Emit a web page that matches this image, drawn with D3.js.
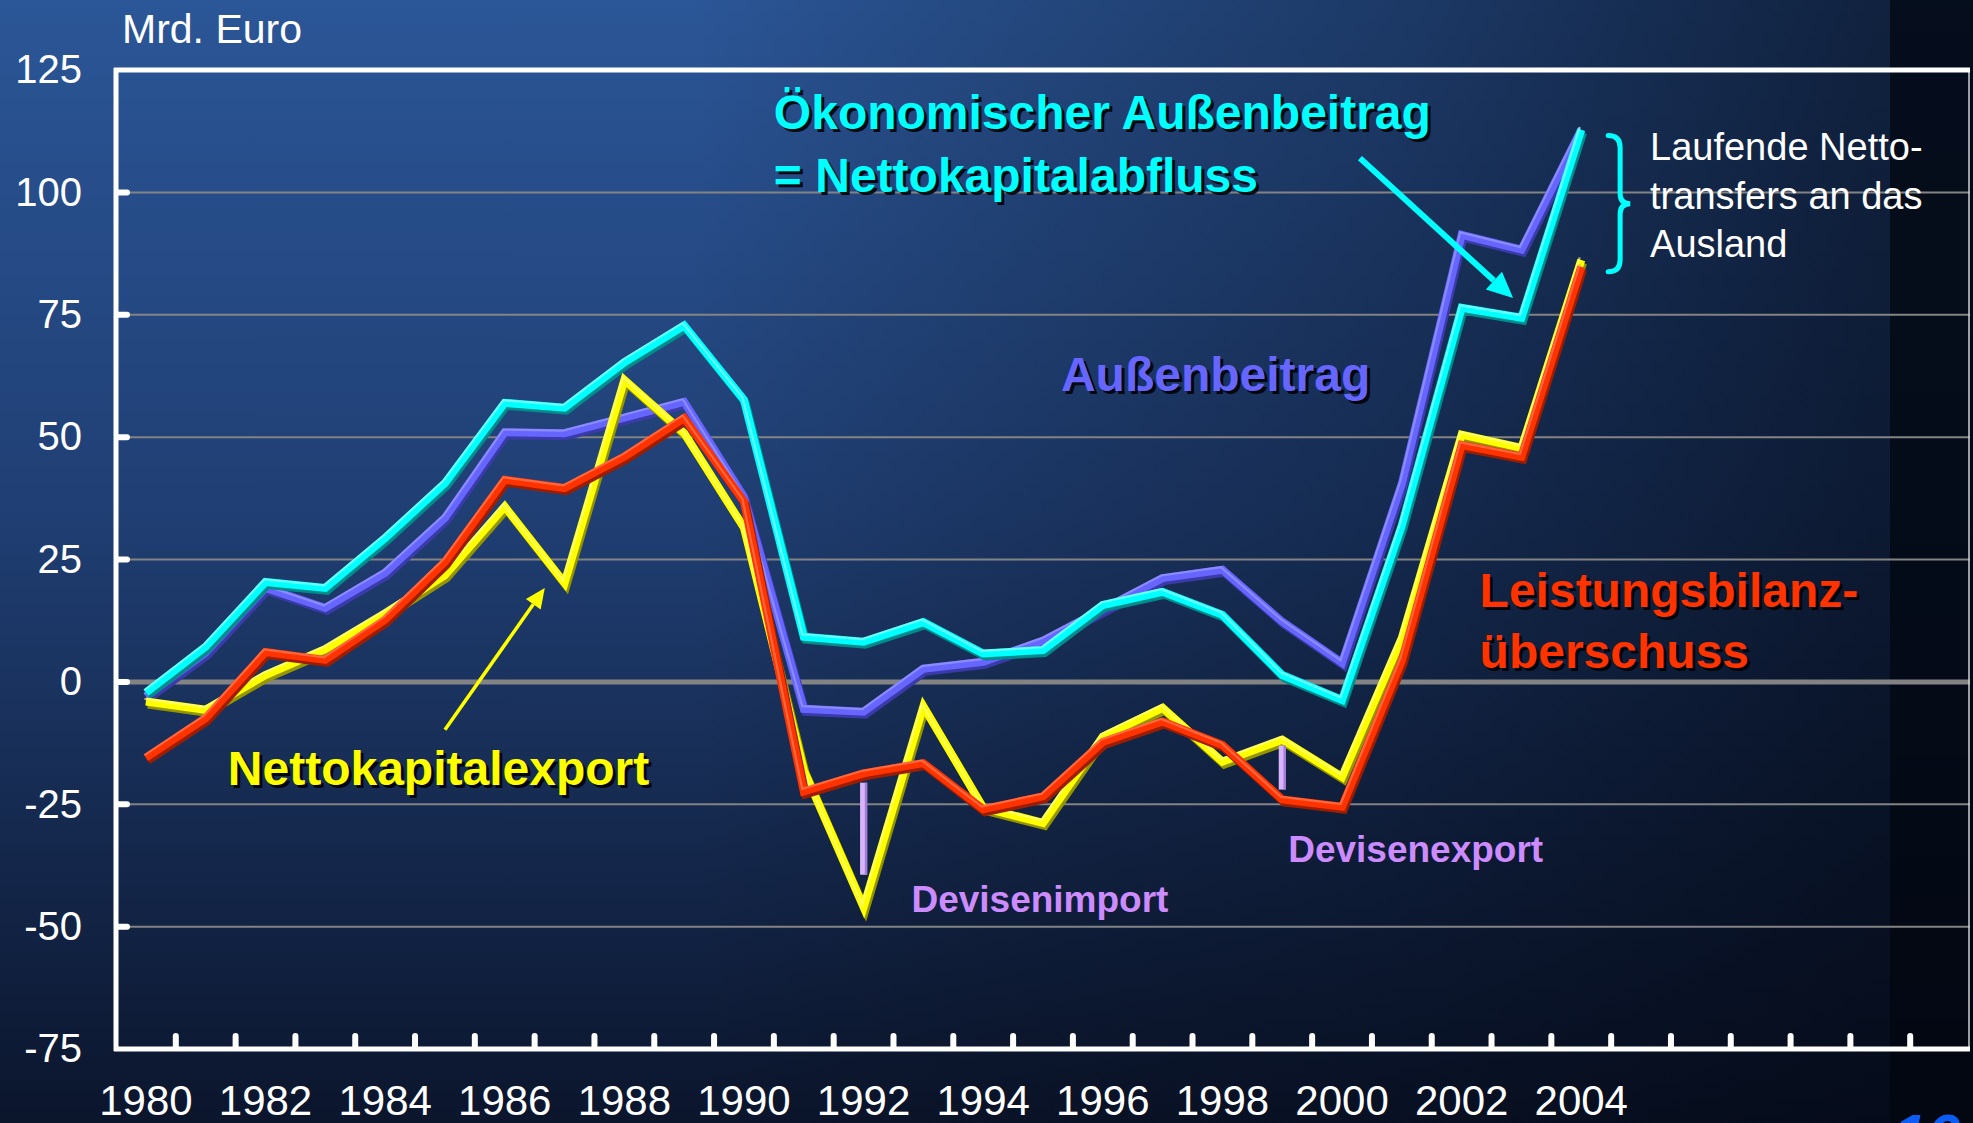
<!DOCTYPE html>
<html>
<head>
<meta charset="utf-8">
<script src="https://cdnjs.cloudflare.com/ajax/libs/d3/7.8.5/d3.min.js"></script>
<style>
  body { margin: 0; background: #0b1429; }
  svg { display: block; font-family: "Liberation Sans", Arial, sans-serif; }
</style>
</head>
<body>
<div id="chart"></div>
<script>
// ---- data (Mrd. Euro) ----
const years = [1980, 1981, 1982, 1983, 1984, 1985, 1986, 1987, 1988, 1989, 1990, 1991, 1992,
               1993, 1994, 1995, 1996, 1997, 1998, 1999, 2000, 2001, 2002, 2003, 2004]
// category slots on the x axis (the chart leaves room up to 2010)
const slots = [1980, 1981, 1982, 1983, 1984, 1985, 1986, 1987, 1988, 1989, 1990, 1991, 1992,
               1993, 1994, 1995, 1996, 1997, 1998, 1999, 2000, 2001, 2002, 2003, 2004, 2005,
               2006, 2007, 2008, 2009, 2010]
const yearLabels = [1980, 1982, 1984, 1986, 1988, 1990, 1992, 1994, 1996, 1998, 2000, 2002, 2004]
const yTicks = [125, 100, 75, 50, 25, 0, -25, -50, -75]

const aussenbeitrag = [-3, 6, 19.2, 15.1, 22.3, 33.5, 51, 50.8, 54, 57.2, 37.8, -5.5, -6.1,
                       2.7, 4.1, 8.4, 14.8, 21.2, 22.9, 12.3, 3.9, 40.5, 91.3, 88.3, 112.8]
const oekAussenbeitrag = [-2.2, 7.2, 20.4, 19.2, 29.4, 40.6, 57, 56, 65.3, 72.8, 57.6, 9.2, 8.2,
                          12.2, 5.8, 6.5, 15.7, 18.4, 13.7, 1.4, -3.7, 32, 76.4, 74.4, 112.8]
const nettokapitalexport = [-4, -5.7, 1.4, 6.7, 14, 21.8, 35.8, 20.2, 61.7, 50.8, 31.5, -18, -46,
                            -5, -25.7, -28.8, -11.2, -5.3, -16.3, -11.8, -19.4, 9, 50.5, 47.8, 86.2]
const leistungsbilanz = [-15.5, -7.4, 6.1, 4.5, 12.7, 24.5, 41.3, 39.6, 46, 53.9, 36.8, -22.4, -18.7,
                         -16.6, -26, -23.4, -12.3, -8.1, -12.9, -24, -25.5, 4.3, 48.4, 46, 84.8]

// Devisenimport / Devisenexport gaps
const deviseYears = [1992, 1999]
const deviseFrom = [-20.6, -13]
const deviseTo = [-39.4, -22]

const width = 1973
const height = 1123

const svg = d3.select("#chart").append("svg")
  .attr("width", width)
  .attr("height", height)

const defs = svg.append("defs")

const bgV = defs.append("linearGradient").attr("id", "bgV")
  .attr("x1", 0).attr("y1", 0).attr("x2", 0).attr("y2", 1)
bgV.append("stop").attr("offset", 0).attr("stop-color", "#2b5697")
bgV.append("stop").attr("offset", 0.45).attr("stop-color", "#203f74")
bgV.append("stop").attr("offset", 1).attr("stop-color", "#0b152c")

const bgH = defs.append("linearGradient").attr("id", "bgH")
  .attr("x1", 0).attr("y1", 0).attr("x2", 1).attr("y2", 0)
bgH.append("stop").attr("offset", 0).attr("stop-color", "#000").attr("stop-opacity", 0)
bgH.append("stop").attr("offset", 0.35).attr("stop-color", "#000").attr("stop-opacity", 0)
bgH.append("stop").attr("offset", 0.7).attr("stop-color", "#020610").attr("stop-opacity", 0.35)
bgH.append("stop").attr("offset", 0.95).attr("stop-color", "#020610").attr("stop-opacity", 0.65)

svg.append("rect").attr("width", width).attr("height", height).attr("fill", "url(#bgV)")
svg.append("rect").attr("width", width).attr("height", height).attr("fill", "url(#bgH)")
svg.append("rect").attr("x", 1890).attr("width", width - 1890).attr("height", height)
  .attr("fill", "#01060e").attr("opacity", 0.7)

// scales
const x = d3.scaleBand().domain(slots).range([116, 1970])
const y = d3.scaleLinear().domain([-75, 125]).range([1049, 70])
const xc = d => x(d) + x.bandwidth() / 2
// fractional year position for annotations
const xa = yr => x(1980) + (yr - 1980 + 0.5) * x.bandwidth()

// grid lines
svg.append("g").selectAll("line")
  .data(yTicks.filter(v => v !== 125 && v !== -75))
  .join("line")
  .attr("x1", 116).attr("x2", 1970)
  .attr("y1", d => y(d)).attr("y2", d => y(d))
  .attr("stroke", "#838383")
  .attr("stroke-width", d => d === 0 ? 5 : 2)

// frame
svg.append("line").attr("x1", 1969).attr("x2", 1969).attr("y1", y(125)).attr("y2", y(-75))
  .attr("stroke", "#d0d0d0").attr("stroke-width", 1.5)
svg.append("line").attr("x1", 114).attr("x2", 1970).attr("y1", y(125)).attr("y2", y(125))
  .attr("stroke", "white").attr("stroke-width", 5)
svg.append("line").attr("x1", 114).attr("x2", 1970).attr("y1", y(-75)).attr("y2", y(-75))
  .attr("stroke", "white").attr("stroke-width", 5)
svg.append("line").attr("x1", 116).attr("x2", 116).attr("y1", y(125) - 2).attr("y2", y(-75) + 2)
  .attr("stroke", "white").attr("stroke-width", 5)

// tick stubs
svg.append("g").selectAll("line")
  .data(yTicks.filter(v => v !== 125 && v !== -75))
  .join("line")
  .attr("x1", 118).attr("x2", 127)
  .attr("y1", d => y(d)).attr("y2", d => y(d))
  .attr("stroke", "white").attr("stroke-width", 6).attr("stroke-linecap", "round")
svg.append("g").selectAll("line")
  .data(slots.slice(1))
  .join("line")
  .attr("x1", d => x(d)).attr("x2", d => x(d))
  .attr("y1", y(-75) - 2).attr("y2", y(-75) - 13)
  .attr("stroke", "white").attr("stroke-width", 6).attr("stroke-linecap", "round")

// axes labels (plain hyphen for negatives, like the original)
const yAxis = d3.axisLeft(y).tickValues(yTicks).tickSize(0).tickPadding(34)
  .tickFormat(d => String(d))
svg.append("g")
  .attr("transform", "translate(116, 0)")
  .call(yAxis)
  .call(g => g.select(".domain").remove())
  .selectAll("text")
  .attr("fill", "white")
  .attr("font-size", 40)
  .attr("font-family", "Liberation Sans, Arial, sans-serif")

const xAxis = d3.axisBottom(x).tickValues(yearLabels).tickSize(0).tickPadding(36)
svg.append("g")
  .attr("transform", "translate(0, " + y(-75) + ")")
  .call(xAxis)
  .call(g => g.select(".domain").remove())
  .selectAll("text")
  .attr("fill", "white")
  .attr("font-size", 42)
  .attr("font-family", "Liberation Sans, Arial, sans-serif")

svg.append("text")
  .attr("x", 122).attr("y", y(125) - 27)
  .attr("fill", "white").attr("font-size", 41)
  .text("Mrd. Euro")

// lines with a bevelled look
const series = [
  { values: aussenbeitrag, color: "#6666ff", light: "#a4a4ff", dark: "#3a3aa8" },
  { values: oekAussenbeitrag, color: "#00ffff", light: "#b0ffff", dark: "#008c8c" },
  { values: nettokapitalexport, color: "#ffff00", light: "#ffffa8", dark: "#959500" },
  { values: leistungsbilanz, color: "#ff3300", light: "#ff8c68", dark: "#9c1d00" }
]

const line = d3.line()
  .x((d, i) => xc(years[i]))
  .y(d => y(d))

const lines = svg.append("g")
series.forEach(s => {
  lines.append("path").datum(s.values)
    .attr("d", line).attr("fill", "none")
    .attr("stroke", s.dark).attr("stroke-width", 8)
    .attr("stroke-linejoin", "miter")
    .attr("transform", "translate(1.8, 3)")
  lines.append("path").datum(s.values)
    .attr("d", line).attr("fill", "none")
    .attr("stroke", s.color).attr("stroke-width", 8)
    .attr("stroke-linejoin", "miter")
  lines.append("path").datum(s.values)
    .attr("d", line).attr("fill", "none")
    .attr("stroke", s.light).attr("stroke-width", 2.2)
    .attr("stroke-opacity", 0.6)
    .attr("stroke-linejoin", "miter")
    .attr("transform", "translate(-1.5, -2.6)")
})

// Devisen gap markers
const marks = svg.append("g")
deviseYears.forEach((yr, i) => {
  marks.append("line")
    .attr("x1", xc(yr)).attr("x2", xc(yr))
    .attr("y1", y(deviseFrom[i])).attr("y2", y(deviseTo[i]))
    .attr("stroke", "#d8b4fa").attr("stroke-width", 7)
  marks.append("line")
    .attr("x1", xc(yr) + 2.5).attr("x2", xc(yr) + 2.5)
    .attr("y1", y(deviseFrom[i])).attr("y2", y(deviseTo[i]))
    .attr("stroke", "#a47ed6").attr("stroke-width", 2.5)
})

// annotation helpers
function label(txt, px, py, size, fill, shadow, weight) {
  const g = svg.append("g")
  if (shadow) {
    g.append("text").attr("x", px + 3).attr("y", py + 3)
      .attr("font-size", size).attr("font-weight", weight || "bold")
      .attr("fill", "#000").attr("opacity", 0.85).text(txt)
  }
  g.append("text").attr("x", px).attr("y", py)
    .attr("font-size", size).attr("font-weight", weight || "bold")
    .attr("fill", fill).text(txt)
}

function arrow(x1, y1, x2, y2, color, w, headLen, headW) {
  const a = Math.atan2(y2 - y1, x2 - x1)
  const bx = x2 - headLen * Math.cos(a)
  const by = y2 - headLen * Math.sin(a)
  svg.append("line").attr("x1", x1).attr("y1", y1).attr("x2", bx).attr("y2", by)
    .attr("stroke", color).attr("stroke-width", w)
  const pts = [
    [x2, y2],
    [bx + headW * Math.sin(a), by - headW * Math.cos(a)],
    [bx - headW * Math.sin(a), by + headW * Math.cos(a)]
  ]
  svg.append("polygon").attr("points", pts.map(p => p.join(",")).join(" ")).attr("fill", color)
}

label("Ökonomischer Außenbeitrag", xa(1990.5), y(113), 48, "#00ffff", true)
label("= Nettokapitalabfluss", xa(1990.5), y(100.1), 48, "#00ffff", true)
label("Außenbeitrag", xa(1995.3), y(59.4), 48, "#6666ff", true)
label("Nettokapitalexport", xa(1981.37), y(-21), 48, "#ffff00", true)
label("Leistungsbilanz-", xa(2002.3), y(15.3), 48, "#ff3300", true)
label("überschuss", xa(2002.3), y(2.9), 48, "#ff3300", true)
label("Devisenimport", xa(1992.8), y(-47), 37, "#cc8cff", false)
label("Devisenexport", xa(1999.1), y(-36.8), 37, "#cc8cff", false)
label("Laufende Netto-", xa(2005.15), y(106.6), 38, "white", false, "normal")
label("transfers an das", xa(2005.15), y(96.6), 38, "white", false, "normal")
label("Ausland", xa(2005.15), y(86.8), 38, "white", false, "normal")

arrow(xa(2000.3), y(107), xa(2002.86), y(78.4), "#00ffff", 6, 26, 12)
arrow(xa(1985.0), y(-9.8), xa(1986.67), y(19.2), "#ffff00", 3.5, 20, 9)

// brace for the current transfers (between the 2004 end values)
const bTop = y(oekAussenbeitrag[24] - 1.2)
const bBot = y(leistungsbilanz[24] - 1)
const bMid = (bTop + bBot) / 2
const b0 = xa(2004.45), b1 = xa(2004.65), b2 = xa(2004.82)
svg.append("path")
  .attr("d", `M${b0},${bTop} Q${b1},${bTop} ${b1},${bTop + 12} L${b1},${bMid - 10}
    Q${b1},${bMid} ${b2},${bMid} Q${b1},${bMid} ${b1},${bMid + 10}
    L${b1},${bBot - 12} Q${b1},${bBot} ${b0},${bBot}`)
  .attr("fill", "none").attr("stroke", "#00ffff").attr("stroke-width", 5)
  .attr("stroke-linecap", "round")

// page number peeking in at the bottom
svg.append("text").attr("x", 1893).attr("y", 1156)
  .attr("font-size", 60).attr("font-weight", "bold").attr("font-style", "italic")
  .attr("fill", "#0a5cf5").text("16")
</script>
</body>
</html>
